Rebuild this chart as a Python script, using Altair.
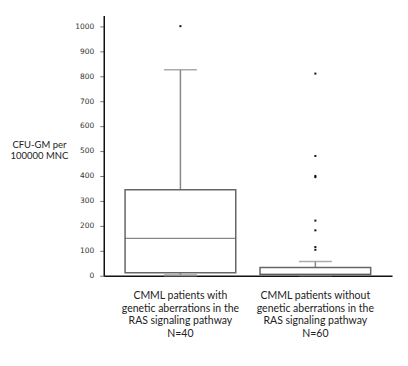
import altair as alt
import pandas as pd

categories = [
    "CMML patients with|genetic aberrations in the|RAS signaling pathway|N=40",
    "CMML patients without|genetic aberrations in the|RAS signaling pathway|N=60",
]
q1 = [12, 5]
median = [150, 6]
q3 = [345, 33]
whisker_low = [2, 3]
whisker_high = [825, 57]
outliers_cat1 = [1000]
outliers_cat2 = [810, 480, 400, 395, 221, 182, 115, 104]
y_ticks = [0, 100, 200, 300, 400, 500, 600, 700, 800, 900, 1000]

stats = pd.DataFrame({
    "cat": categories, "q1": q1, "median": median, "q3": q3,
    "lo": whisker_low, "hi": whisker_high,
})
outs = pd.DataFrame({
    "cat": [categories[0]] * len(outliers_cat1) + [categories[1]] * len(outliers_cat2),
    "v": outliers_cat1 + outliers_cat2,
})

xscale = alt.Scale(domain=categories, paddingInner=0.18, paddingOuter=0.158)
yscale = alt.Scale(domain=[0, 1043], nice=False, zero=True)

x_axis = alt.Axis(labelExpr="split(datum.label, '|')", labelAngle=0,
                  ticks=False, labelPadding=15, labelLineHeight=12.5,
                  labelFont="Lato", labelFontSize=10.5, labelColor="#222",
                  domainColor="#111", domainWidth=1.5, labelLimit=300)
y_axis = alt.Axis(values=y_ticks, format="d", labelOverlap=False, grid=False,
                  title=["CFU-GM per", "100000 MNC"],
                  titleAngle=0, titleX=-65, titleY=134, titleAlign="center",
                  titleFont="Lato", titleFontSize=9.5, titleFontWeight="normal",
                  titleColor="#222", labelFont="DejaVu Sans", labelFontSize=7.5,
                  labelColor="#333", tickSize=4, tickColor="#777", labelPadding=6,
                  domainColor="#111", domainWidth=1.5)


def X():
    return alt.X("cat:N", scale=xscale, sort=categories, title=None, axis=x_axis)


def Y(field):
    return alt.Y(field, scale=yscale, axis=y_axis)


base = alt.Chart(stats)

whisker_up = base.mark_rule(color="#888", strokeWidth=1.5).encode(
    x=X(), y=Y("q3:Q"), y2="hi:Q")
whisker_dn = base.mark_rule(color="#888", strokeWidth=1.5).encode(
    x=X(), y=Y("lo:Q"), y2="q1:Q")
cap_hi = base.mark_tick(color="#888", thickness=1.5, size=33).encode(
    x=X(), y=Y("hi:Q"))
cap_lo = base.mark_tick(color="#999", thickness=2.5, size=33).encode(
    x=X(), y=Y("lo:Q"))
box = base.mark_bar(fill="white", stroke="#666", strokeWidth=1.5).encode(
    x=X(), y=Y("q1:Q"), y2="q3:Q")
med = base.mark_tick(color="#555", thickness=1.2, size=111).encode(
    x=X(), y=Y("median:Q"))
pts = alt.Chart(outs).mark_square(color="#111", size=4, opacity=1).encode(
    x=X(), y=Y("v:Q"))

chart = alt.layer(whisker_up, whisker_dn, cap_hi, cap_lo, box, med, pts).properties(
    width=289, height=261,
    autosize=alt.AutoSizeParams(type="none"),
    padding={"left": 96, "top": 7, "right": 8, "bottom": 80},
    background="white",
).configure_view(stroke=None)

chart.save("out.html", embed_options={"renderer": "svg", "actions": False})
